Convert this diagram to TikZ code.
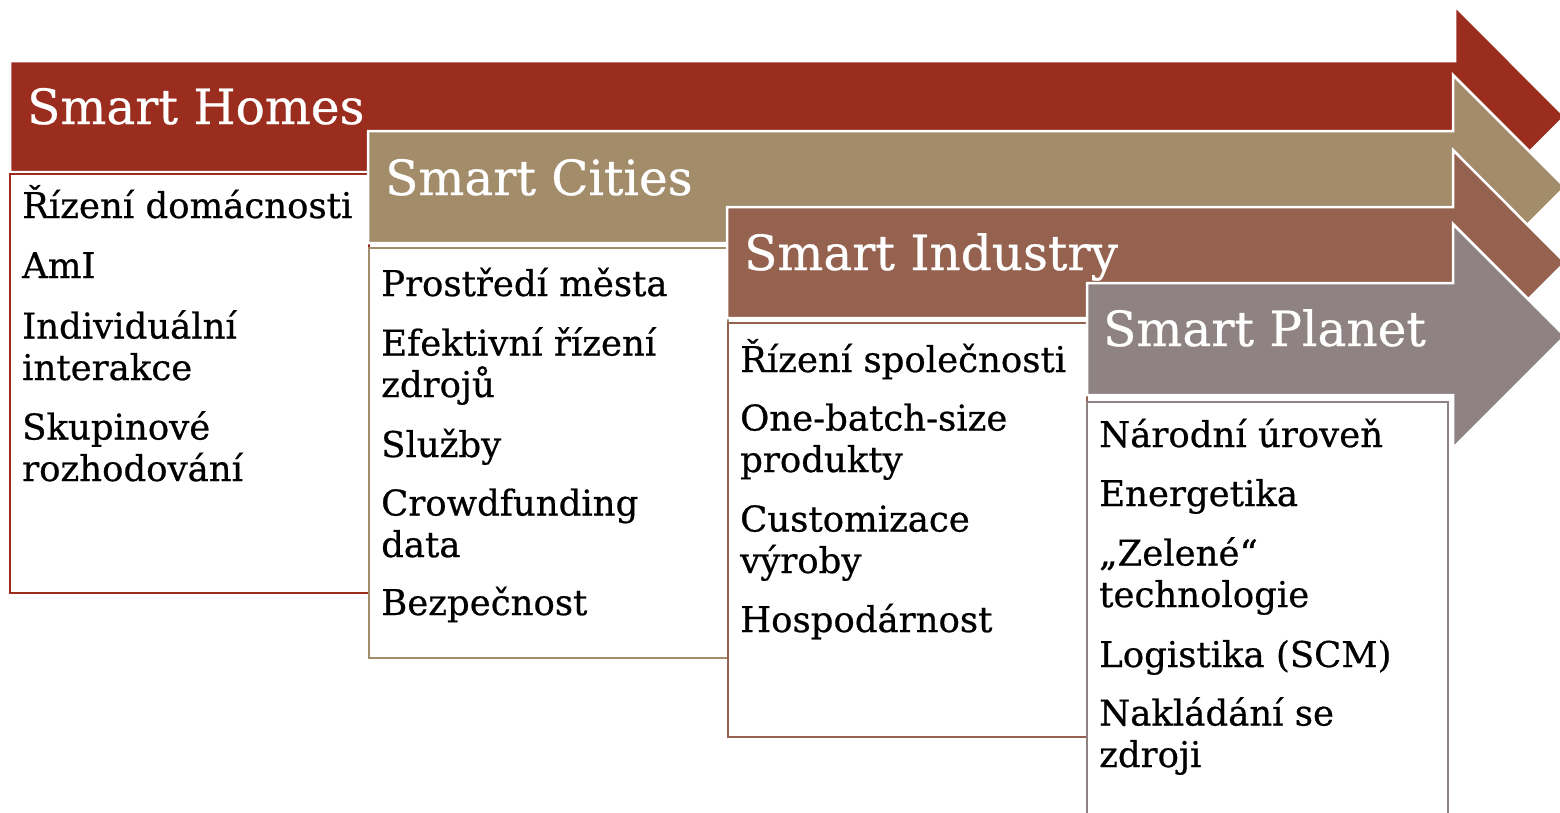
\documentclass[tikz,border=0pt]{standalone}
\usepackage{fontspec}
\setmainfont[FakeBold=0.6]{DejaVu Serif}
\definecolor{cHome}{RGB}{155,45,31}
\definecolor{cCity}{RGB}{162,140,106}
\definecolor{cInd}{RGB}{149,98,80}
\definecolor{cPlan}{RGB}{142,130,130}
\tikzset{
  arrowband/.style={fill=#1, draw=white, line width=2.5pt, line join=miter},
  itembox/.style={fill=white, draw=#1, line width=2.6pt},
  ttl/.style={anchor=base west, inner sep=0pt, text=white, font=\fontsize{48.5}{52}\selectfont},
  itm/.style={anchor=base west, inner sep=0pt, align=left, font=\fontsize{35.5}{41.5}\selectfont},
}
\begin{document}
\begin{tikzpicture}[x=1pt,y=1pt]
\useasboundingbox (0,0) rectangle (1560,-812);
% Smart Homes
\draw[arrowband=cHome] (10,-61) -- (1455,-61) -- (1455,-6) -- (1565,-116.5) -- (1455,-226) -- (1455,-172) -- (10,-172) -- cycle;
\node[ttl] (t1) at (27,-124) {Smart Homes};
\draw[itembox=cHome] (10,-174) rectangle (369,-593);
\node[itm] (a1) at (22,-218) {Řízení domácnosti};
\node[itm] (a2) at (22,-278) {AmI};
\node[itm] (a3) at (22,-380) {Individuální\\interakce};
\node[itm] (a4) at (22,-481) {Skupinové\\rozhodování};
% Smart Cities
\draw[arrowband=cCity] (368,-131) -- (1453,-131) -- (1453,-75) -- (1565,-187) -- (1453,-299) -- (1453,-243) -- (368,-243) -- cycle;
\node[ttl] (t2) at (385,-195) {Smart Cities};
\draw[itembox=cCity] (369,-248) rectangle (728,-658);
\node[itm] (b1) at (381,-296) {Prostředí města};
\node[itm] (b2) at (381,-397) {Efektivní řízení\\zdrojů};
\node[itm] (b3) at (381,-457) {Služby};
\node[itm] (b4) at (381,-557) {Crowdfunding\\data};
\node[itm] (b5) at (381,-615) {Bezpečnost};
% Smart Industry
\draw[arrowband=cInd] (727,-207) -- (1453,-207) -- (1453,-150) -- (1565,-262.5) -- (1453,-375) -- (1453,-318) -- (727,-318) -- cycle;
\node[ttl] (t3) at (744,-270) {Smart Industry};
\draw[itembox=cInd] (728,-323) rectangle (1087,-737);
\node[itm] (c1) at (740,-372) {Řízení společnosti};
\node[itm] (c2) at (740,-472) {One-batch-size\\produkty};
\node[itm] (c3) at (740,-573) {Customizace\\výroby};
\node[itm] (c4) at (740,-632) {Hospodárnost};
% Smart Planet
\draw[arrowband=cPlan] (1087,-283) -- (1453,-283) -- (1453,-224) -- (1565,-336) -- (1453,-448) -- (1453,-395) -- (1087,-395) -- cycle;
\node[ttl] (t4) at (1103,-346) {Smart Planet};
\draw[itembox=cPlan] (1087,-402) rectangle (1448,-830);
\node[itm] (d1) at (1099,-447) {Národní úroveň};
\node[itm] (d2) at (1099,-506) {Energetika};
\node[itm] (d3) at (1099,-607) {„Zelené“\\technologie};
\node[itm] (d4) at (1099,-667) {Logistika (SCM)};
\node[itm] (d5) at (1099,-767) {Nakládání se\\zdroji};
\end{tikzpicture}
\end{document}
